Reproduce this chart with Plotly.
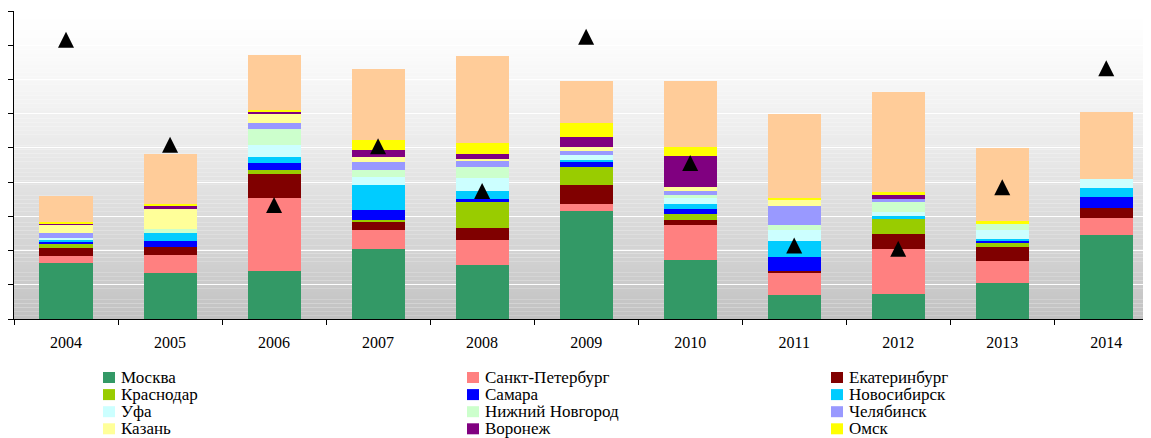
import plotly.graph_objects as go

# Years (x categories)
years = ["2004", "2005", "2006", "2007", "2008", "2009", "2010", "2011", "2012", "2013", "2014"]

# Stacked series, bottom to top (gridline step = 10)
moskva = [16.4, 13.5, 14.0, 20.5, 15.8, 31.6, 17.3, 7.0, 7.3, 10.5, 24.6]
spb = [2.0, 5.3, 21.3, 5.6, 7.3, 2.0, 10.2, 6.4, 13.2, 6.4, 5.0]
ekb = [2.3, 2.2, 7.0, 2.3, 3.5, 5.6, 1.5, 0.6, 4.4, 4.1, 2.9]
krasnodar = [1.2, 0.0, 1.2, 0.6, 7.6, 5.3, 1.8, 0.0, 4.4, 1.2, 0.0]
samara = [0.6, 1.8, 2.0, 2.9, 0.9, 1.5, 1.2, 4.1, 0.0, 0.6, 3.2]
novosibirsk = [0.7, 2.3, 1.8, 7.3, 2.3, 0.6, 1.5, 4.7, 0.9, 0.6, 2.6]
ufa = [0.5, 0.0, 3.5, 2.3, 3.8, 1.2, 1.8, 3.2, 1.2, 2.6, 2.6]
nnovgorod = [0.0, 1.2, 4.7, 2.0, 3.2, 0.0, 0.9, 1.5, 2.9, 1.8, 0.0]
chelyabinsk = [1.5, 0.0, 1.8, 2.3, 1.8, 1.2, 1.2, 5.6, 0.9, 0.0, 0.0]
kazan = [2.3, 5.8, 2.6, 1.5, 0.6, 1.2, 1.2, 1.8, 0.0, 0.0, 0.0]
voronezh = [0.4, 0.8, 0.6, 2.0, 1.5, 2.9, 9.1, 0.0, 0.9, 0.0, 0.0]
omsk = [0.3, 0.8, 0.7, 2.9, 3.2, 4.2, 2.7, 0.6, 0.9, 0.7, 0.0]
prochie = [7.8, 14.5, 16.0, 20.8, 25.4, 12.2, 19.2, 24.3, 29.2, 21.5, 19.6]

# Triangle markers
markers_y = [81.6, 50.9, 33.3, 50.5, 37.4, 82.5, 45.6, 21.5, 20.5, 38.5, 73.3]

FONT = "Liberation Serif"

series = [
    ("Москва", moskva, "#339966"),
    ("Санкт-Петербург", spb, "#FF8080"),
    ("Екатеринбург", ekb, "#800000"),
    ("Краснодар", krasnodar, "#99CC00"),
    ("Самара", samara, "#0000FF"),
    ("Новосибирск", novosibirsk, "#00CCFF"),
    ("Уфа", ufa, "#CCFFFF"),
    ("Нижний Новгород", nnovgorod, "#CCFFCC"),
    ("Челябинск", chelyabinsk, "#9999FF"),
    ("Казань", kazan, "#FFFF99"),
    ("Воронеж", voronezh, "#800080"),
    ("Омск", omsk, "#FFFF00"),
]

fig = go.Figure()

for name, vals, color in series:
    fig.add_trace(go.Bar(x=years, y=vals, name=name, marker_color=color,
                         marker_line_width=0, showlegend=False))

fig.add_trace(go.Bar(x=years, y=prochie, name="Прочие", marker_color="#FFCC99",
                     marker_line_width=0, showlegend=False))

# upward triangle centred on the value
fig.add_trace(go.Scatter(
    x=years, y=markers_y, mode="markers", name="Итого", showlegend=False,
    marker=dict(symbol="arrow-down", angle=180, standoff=8, size=16, color="black"),
))

# the page body adds an 8px margin, so the figure sits at (8, 8) in the window
OFF = 8
W, H = 1151 - OFF, 438 - OFF
# plot area in figure pixels
PL, PT, PB = 14 - OFF, 11 - OFF, 319 - OFF
PW, PH = W - PL, PB - PT


def px_x(x):
    # window x -> paper
    return (x - OFF - PL) / PW


def px_y(y):
    # window y -> paper
    return (PB - (y - OFF)) / PH


# vertical grey gradient behind the plot area
n_steps = 80
for i in range(n_steps):
    f = (i + 0.5) / n_steps  # 0 at top
    v = int(round(255 - 61 * f ** 1.3))
    fig.add_shape(type="rect", xref="paper", yref="paper",
                  x0=0, x1=1, y0=1 - (i + 1) / n_steps, y1=1 - i / n_steps,
                  fillcolor=f"rgb({v},{v},{v})", line_width=0, layer="below")

# legend: 3 columns x 4 rows, filled row by row
col_left = [103, 467, 831]
row_mid = [377.5, 394.6, 411.7, 428.8]
for k, (name, _, color) in enumerate(series):
    cx = col_left[k % 3]
    cy = row_mid[k // 3]
    fig.add_shape(type="rect", xref="paper", yref="paper",
                  x0=px_x(cx), x1=px_x(cx + 12), y0=px_y(cy + 5.5), y1=px_y(cy - 5.5),
                  fillcolor=color, line_width=0)
    fig.add_annotation(xref="paper", yref="paper", x=px_x(cx + 16), y=px_y(cy),
                       xanchor="left", yanchor="middle", showarrow=False, text=name,
                       font=dict(family=FONT, size=17, color="black"))

fig.update_layout(
    width=W, height=H,
    margin=dict(l=PL, r=0, t=PT, b=H - PB),
    barmode="stack", bargap=0.49,
    paper_bgcolor="white", plot_bgcolor="white",
    font=dict(family=FONT, size=16, color="black"),
    showlegend=False,
)

fig.update_xaxes(
    type="category", range=[-0.5, 10.43], tickson="boundaries",
    ticks="outside", ticklen=5, tickcolor="black", ticklabelstandoff=9,
    showline=True, linecolor="black", linewidth=1,
    showgrid=False, tickfont=dict(family=FONT, size=16, color="black"),
)
fig.update_yaxes(
    range=[0, 90], dtick=10, showticklabels=False,
    ticks="outside", ticklen=5, tickcolor="black",
    showline=True, linecolor="black", linewidth=1,
    showgrid=True, gridcolor="white", gridwidth=1, zeroline=False,
)

fig.write_html("out.html")
